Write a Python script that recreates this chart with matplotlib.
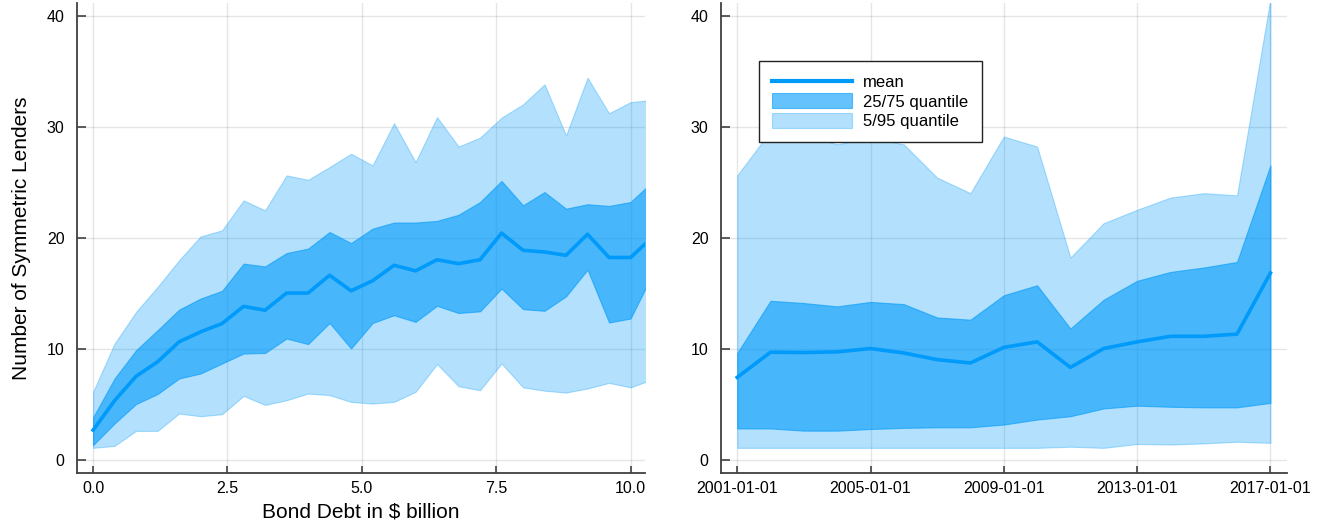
import datetime as dt

import matplotlib.pyplot as plt
import matplotlib.dates as mdates
from matplotlib.lines import Line2D

plt.rcParams['font.family'] = ['Liberation Sans', 'DejaVu Sans']

# bond debt grid (in $ billion) and the lender-count statistics over it
debt = [0.0, 0.4, 0.8, 1.2, 1.6, 2.0, 2.4, 2.8, 3.2, 3.6, 4.0, 4.4, 4.8, 5.2,
        5.6, 6.0, 6.4, 6.8, 7.2, 7.6, 8.0, 8.4, 8.8, 9.2, 9.6, 10.0, 10.4]
debt_mean = [2.65, 5.3, 7.5, 8.8, 10.6, 11.5, 12.25, 13.8, 13.45, 15.0, 15.0,
             16.6, 15.2, 16.1, 17.5, 17.0, 18.0, 17.65, 18.0, 20.4, 18.85,
             18.7, 18.4, 20.3, 18.2, 18.2, 20.0]
debt_q05 = [1.05, 1.23, 2.58, 2.58, 4.14, 3.9, 4.08, 5.73, 4.92, 5.34, 5.94,
            5.8, 5.19, 5.04, 5.19, 6.1, 8.6, 6.6, 6.24, 8.65, 6.5, 6.2, 6.03,
            6.4, 6.9, 6.5, 7.2]
debt_q25 = [1.3, 3.25, 5.0, 5.9, 7.3, 7.75, 8.65, 9.55, 9.6, 10.9, 10.4, 12.3,
            10.0, 12.3, 13.0, 12.4, 13.85, 13.2, 13.35, 15.4, 13.55, 13.4,
            14.7, 17.1, 12.35, 12.7, 16.6]
debt_q75 = [3.8, 7.3, 9.85, 11.65, 13.5, 14.5, 15.2, 17.65, 17.4, 18.6, 19.0,
            20.5, 19.5, 20.8, 21.35, 21.35, 21.5, 22.05, 23.2, 25.1, 22.9,
            24.1, 22.6, 23.0, 22.85, 23.2, 25.0]
debt_q95 = [6.1, 10.45, 13.3, 15.55, 17.95, 20.1, 20.65, 23.35, 22.45, 25.6,
            25.2, 26.35, 27.55, 26.5, 30.3, 26.8, 30.85, 28.2, 29.0, 30.8,
            32.0, 33.8, 29.2, 34.4, 31.2, 32.2, 32.4]

# issuance years and the same statistics over time
years = [2001, 2002, 2003, 2004, 2005, 2006, 2007, 2008, 2009, 2010, 2011,
         2012, 2013, 2014, 2015, 2016, 2017]
year_mean = [7.4, 9.67, 9.64, 9.7, 10.0, 9.6, 9.0, 8.7, 10.1, 10.6, 8.3, 10.0,
             10.6, 11.1, 11.1, 11.3, 16.8]
year_q05 = [1.05, 1.05, 1.05, 1.05, 1.05, 1.05, 1.05, 1.05, 1.05, 1.05, 1.15,
            1.05, 1.4, 1.35, 1.45, 1.6, 1.5]
year_q25 = [2.8, 2.8, 2.6, 2.6, 2.75, 2.85, 2.9, 2.9, 3.15, 3.6, 3.9, 4.6,
            4.85, 4.75, 4.7, 4.7, 5.1]
year_q75 = [9.6, 14.3, 14.1, 13.8, 14.2, 14.0, 12.8, 12.6, 14.8, 15.7, 11.8,
            14.4, 16.1, 16.9, 17.3, 17.8, 26.5]
year_q95 = [25.6, 29.6, 29.3, 28.4, 29.0, 28.4, 25.4, 24.0, 29.1, 28.2, 18.2,
            21.3, 22.5, 23.6, 24.0, 23.8, 41.5]

dates = [dt.datetime(y, 1, 1) for y in years]
date_ticks = [dt.datetime(y, 1, 1) for y in [2001, 2005, 2009, 2013, 2017]]

blue = '#009AFA'
axis_col = '#404040'
tick_fs = 11.5
label_fs = 15


def band_plot(ax, x, mean, q05, q25, q75, q95):
    light = ax.fill_between(x, q05, q95, color=blue, alpha=0.3, lw=0.8)
    dark = ax.fill_between(x, q25, q75, color=blue, alpha=0.6, lw=0.8)
    ax.plot(x, mean, color=blue, lw=2.6)
    return light, dark


def style_axes(ax):
    for side in ['top', 'right']:
        ax.spines[side].set_visible(False)
    for side in ['left', 'bottom']:
        ax.spines[side].set_color(axis_col)
        ax.spines[side].set_linewidth(1.3)
    ax.grid(True, color='black', alpha=0.1, lw=1.0)
    ax.set_axisbelow(True)
    ax.tick_params(axis='y', direction='in', length=6.5, width=1.2,
                   color=axis_col, labelsize=tick_fs, pad=9)
    ax.tick_params(axis='x', direction='in', length=5, width=1.2,
                   color=axis_col, labelsize=tick_fs, pad=6)
    ax.set_ylim(-1.17, 41.13)
    ax.set_yticks([0, 10, 20, 30, 40])


fig = plt.figure(figsize=(13.43, 5.29), dpi=100)
ax1 = fig.add_axes([0.0573, 0.1068, 0.4230, 0.8875])
ax2 = fig.add_axes([0.5369, 0.1068, 0.4214, 0.8875])

# left: lenders against bond debt
band_plot(ax1, debt, debt_mean, debt_q05, debt_q25, debt_q75, debt_q95)
style_axes(ax1)
ax1.set_xlim(-0.3, 10.27)
ax1.set_xticks([0, 2.5, 5.0, 7.5, 10.0])
ax1.set_xticklabels(['0.0', '2.5', '5.0', '7.5', '10.0'])
ax1.set_xlabel('Bond Debt in $ billion', fontsize=label_fs, labelpad=5)
ax1.set_ylabel('Number of Symmetric Lenders', fontsize=label_fs, labelpad=11)

# right: lenders over time
light, dark = band_plot(ax2, dates, year_mean, year_q05, year_q25, year_q75,
                        year_q95)
style_axes(ax2)
ax2.set_xlim(dates[0] - dt.timedelta(days=177), dates[-1] + dt.timedelta(days=182))
ax2.set_xticks(date_ticks)
ax2.xaxis.set_major_formatter(mdates.DateFormatter('%Y-%m-%d'))

mean_handle = Line2D([], [], color=blue, lw=3)
leg = ax2.legend([mean_handle, dark, light],
                 ['mean', '25/75 quantile', '5/95 quantile'],
                 loc='upper left', bbox_to_anchor=(0.067, 0.8765),
                 borderaxespad=0, fontsize=12, fancybox=False,
                 framealpha=1, edgecolor='#222222', handlelength=4.8,
                 handleheight=1.0, handletextpad=0.65, labelspacing=0.18,
                 borderpad=0.8)
leg.get_frame().set_linewidth(1.0)

fig.savefig('out.png', dpi=100)
